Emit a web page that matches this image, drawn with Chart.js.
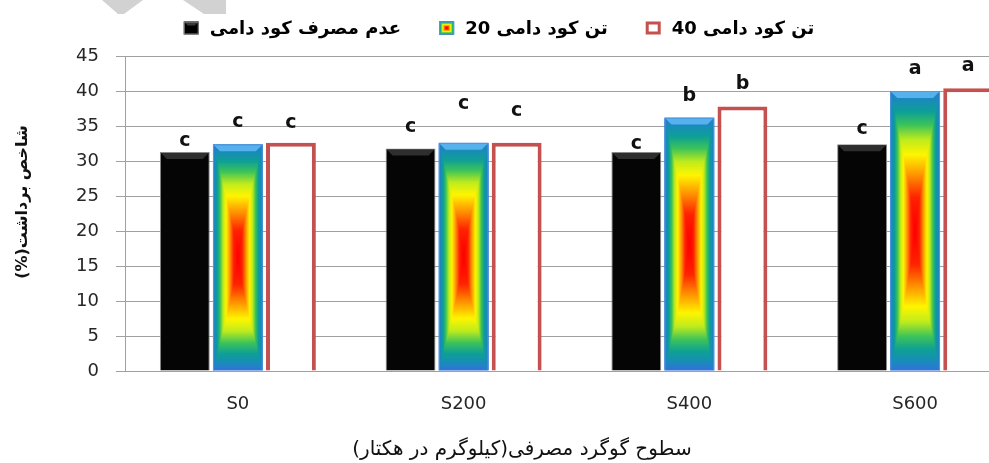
<!DOCTYPE html>
<html><head><meta charset="utf-8">
<script src="https://cdn.jsdelivr.net/npm/chart.js@4"></script>
<style>
html,body{margin:0;padding:0;background:#fff;overflow:hidden;width:989px;height:463px}
#wrap{position:relative;width:989px;height:463px;overflow:hidden}
canvas{display:block}
</style></head>
<body><div id="wrap"><canvas id="c" width="1040" height="463"></canvas></div>
<script>
// ---- data ----
const categories = ['S0', 'S200', 'S400', 'S600'];
const seriesNames = ['عدم مصرف کود دامی', '20 تن کود دامی', '40 تن کود دامی'];
const noManure = [31.3, 31.8, 31.3, 32.4];
const manure20 = [32.4, 32.6, 36.2, 40.0];
const manure40 = [32.6, 32.6, 37.8, 40.4];
const lettersNoManure = ['c', 'c', 'c', 'c'];
const letters20 = ['c', 'c', 'b', 'a'];
const letters40 = ['c', 'c', 'b', 'a'];
const yMin = 0, yMax = 45, yStep = 5;
const yTitle = 'شاخص برداشت(%)';
const xTitle = 'سطوح گوگرد مصرفی(کیلوگرم در هکتار)';

const FONT = 'DejaVu Sans';
const stops = [[0,[255,0,0]],[0.17,[255,35,0]],[0.31,[255,140,0]],[0.47,[255,245,0]],[0.59,[190,235,30]],[0.71,[60,195,90]],[0.82,[15,160,150]],[0.92,[25,140,185]],[1,[50,115,220]]];
function rainbow(t){
  for (let k = 1; k < stops.length; k++) {
    if (t <= stops[k][0]) {
      const [t0,c0] = stops[k-1], [t1,c1] = stops[k];
      const f = (t - t0) / (t1 - t0);
      return 'rgb(' + c0.map((v,i)=>Math.round(v + (c1[i]-v)*f)).join(',') + ')';
    }
  }
  return 'rgb(50,115,220)';
}
function paintRainbow(ctx, l, t, w, h, vexp){
  const cx = l + w/2, cy = t + h/2, N = 120;
  for (let i = N; i >= 1; i--) {
    const s = i / N;
    const hw = w/2 * s, hh = h/2 * Math.pow(s, vexp);
    ctx.fillStyle = rainbow(s);
    ctx.fillRect(cx - hw, cy - hh, hw*2, hh*2);
  }
}
function topBevel(ctx, l, t, w, d, color){
  ctx.fillStyle = color;
  ctx.beginPath();
  ctx.moveTo(l, t); ctx.lineTo(l + w, t); ctx.lineTo(l + w - d, t + d); ctx.lineTo(l + d, t + d);
  ctx.closePath(); ctx.fill();
}

const backdrop = {
  id: 'backdrop',
  beforeDraw(chart) {
    const ctx = chart.ctx;
    ctx.save();
    ctx.fillStyle = '#d2d2d2';
    ctx.beginPath();
    ctx.moveTo(102, 0); ctx.lineTo(143, 0); ctx.lineTo(124, 14); ctx.lineTo(118, 14); ctx.closePath(); ctx.fill();
    ctx.beginPath();
    ctx.moveTo(183, 0); ctx.lineTo(226, 0); ctx.lineTo(226, 14); ctx.lineTo(204, 14); ctx.closePath(); ctx.fill();
    ctx.restore();
  }
};

const barStyling = {
  id: 'barStyling',
  beforeDatasetDraw(chart, args) {
    if (args.index !== 1) return;
    const ctx = chart.ctx;
    ctx.save();
    args.meta.data.forEach(el => {
      const p = el.getProps(['x','y','base','width'], true);
      paintRainbow(ctx, p.x - p.width/2, p.y, p.width, p.base - p.y, 0.8);
    });
    ctx.restore();
  },
  afterDatasetDraw(chart, args) {
    const ctx = chart.ctx;
    ctx.save();
    args.meta.data.forEach(el => {
      const p = el.getProps(['x','y','base','width'], true);
      const l = p.x - p.width/2;
      if (args.index === 0) topBevel(ctx, l + 1, p.y + 1, p.width - 2, 6, '#2e2e2e');
      if (args.index === 1) topBevel(ctx, l + 1, p.y + 1, p.width - 2, 6, '#56b2ec');
    });
    ctx.restore();
  }
};

const sigLetters = {
  id: 'sigLetters',
  afterDatasetsDraw(chart, args, opts) {
    const ctx = chart.ctx;
    ctx.save();
    ctx.font = 'bold 19px "' + FONT + '"';
    ctx.fillStyle = '#111';
    ctx.textAlign = 'center';
    ctx.textBaseline = 'middle';
    chart.data.datasets.forEach((ds, i) => {
      const meta = chart.getDatasetMeta(i);
      meta.data.forEach((el, j) => {
        const p = el.getProps(['x','y'], true);
        ctx.fillText(ds.letters[j], p.x, p.y - opts.offsets[i][j]);
      });
    });
    ctx.restore();
  }
};

const texts = {
  id: 'texts',
  afterDraw(chart, args, opts) {
    const ctx = chart.ctx;
    ctx.save();
    // legend
    ctx.font = 'bold 18px "' + FONT + '"';
    ctx.textBaseline = 'middle';
    ctx.direction = 'ltr';
    ctx.textAlign = 'left';
    const box = 15, boxH = 13, gapText = 11, gapItem = 38;
    const widths = chart.data.datasets.map(ds => ctx.measureText(ds.label).width);
    const total = widths.reduce((a,b)=>a+b,0) + 3*(box+gapText) + 2*gapItem;
    let x = opts.legendCenter - total/2;
    const ly = opts.legendY;
    chart.data.datasets.forEach((ds, i) => {
      const by = ly - boxH/2;
      if (i === 0) {
        ctx.fillStyle = '#000'; ctx.fillRect(x, by, box, boxH);
        topBevel(ctx, x, by, box, 4, '#3a3a3a');
        ctx.strokeStyle = '#888'; ctx.lineWidth = 1; ctx.strokeRect(x+0.5, by+0.5, box-1, boxH-1);
      } else if (i === 1) {
        paintRainbow(ctx, x, by, box, boxH, 1);
        ctx.strokeStyle = '#5aa0d0'; ctx.lineWidth = 1; ctx.strokeRect(x+0.5, by+0.5, box-1, boxH-1);
      } else {
        ctx.fillStyle = '#fff'; ctx.fillRect(x, by, box, boxH);
        ctx.strokeStyle = ds.borderColor; ctx.lineWidth = 3; ctx.strokeRect(x+1.5, by+1.5, box-3, boxH-3);
      }
      ctx.fillStyle = '#000';
      ctx.fillText(ds.label, x + box + gapText, ly + 1);
      x += box + gapText + widths[i] + gapItem;
    });
    // x title
    ctx.direction = 'rtl';
    ctx.textAlign = 'center';
    ctx.font = '20px "' + FONT + '"';
    ctx.fillStyle = '#111';
    ctx.fillText(xTitle, opts.xTitleX, opts.xTitleY);
    // y title
    ctx.translate(opts.yTitleX, opts.yTitleY);
    ctx.rotate(-Math.PI/2);
    ctx.font = 'bold 16px "' + FONT + '"';
    ctx.fillText(yTitle, 0, 0);
    ctx.restore();
  }
};

new Chart(document.getElementById('c'), {
  type: 'bar',
  data: {
    labels: categories,
    datasets: [
      { label: seriesNames[0], data: noManure, letters: lettersNoManure, backgroundColor: '#050505', borderColor: '#8a8a8a', borderWidth: 1 },
      { label: seriesNames[1], data: manure20, letters: letters20, backgroundColor: 'rgba(0,0,0,0)', borderColor: '#4f9fd6', borderWidth: 1 },
      { label: seriesNames[2], data: manure40, letters: letters40, backgroundColor: '#ffffff', borderColor: '#c4504f', borderWidth: 4 }
    ]
  },
  options: {
    responsive: false,
    animation: false,
    events: [],
    layout: { padding: { top: 56, right: 12, bottom: 0, left: 0 } },
    datasets: { bar: { categoryPercentage: 0.705, barPercentage: 0.94 } },
    scales: {
      x: {
        grid: { display: false },
        border: { display: true, color: '#a0a0a0' },
        ticks: { color: '#262626', font: { family: FONT, size: 18 }, padding: 15 },
        afterFit(s) { s.height = 92; }
      },
      y: {
        min: yMin, max: yMax,
        ticks: { stepSize: yStep, color: '#262626', font: { family: FONT, size: 18 }, padding: 17 },
        grid: { color: '#a0a0a0', lineWidth: 1, tickLength: 9, drawTicks: true },
        border: { display: true, color: '#a0a0a0' },
        afterFit(s) { s.width = 125; }
      }
    },
    plugins: {
      legend: { display: false },
      tooltip: { enabled: false },
      sigLetters: { offsets: [[11, 21, 8, 15], [22, 39, 22, 22], [20, 32, 22, 22]] },
      texts: { legendCenter: 499, legendY: 28, xTitleX: 522, xTitleY: 450, yTitleX: 23, yTitleY: 202 }
    }
  },
  plugins: [backdrop, barStyling, sigLetters, texts]
});
</script>
</body></html>
